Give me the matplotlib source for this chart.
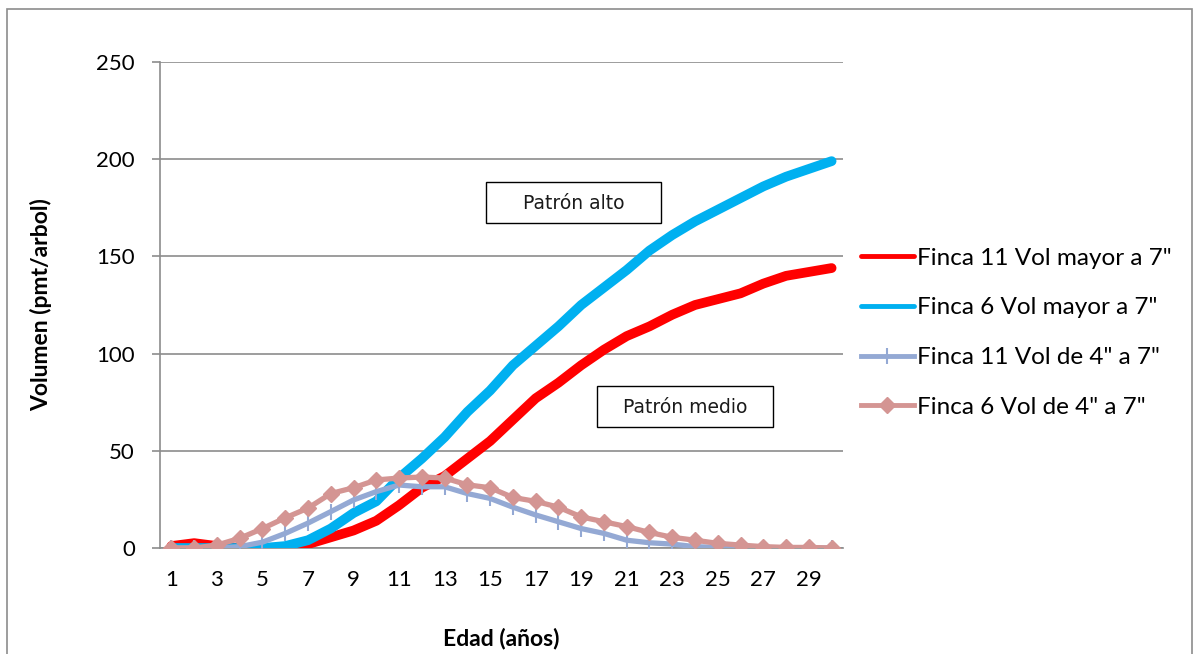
import matplotlib
matplotlib.use('Agg')
import matplotlib.pyplot as plt
from matplotlib.patches import Rectangle

# Data
edad = list(range(1, 31))
finca11_mayor = [1, 2.5, 1, 0, 0, 0, 2, 5.5, 9, 14, 22, 31, 37, 46, 55,
                 66, 77, 85, 94, 102, 109, 114, 120, 125, 128, 131, 136, 140, 142, 144]
finca6_mayor = [0, 0, 0, 0, 0, 1, 4, 10, 18, 24, 36, 46, 57, 70, 81,
                94, 104, 114, 125, 134, 143, 153, 161, 168, 174, 180, 186, 191, 195, 199]
finca11_4a7 = [0, 0, 0, 0.7, 3, 7.5, 12.8, 18.7, 24.7, 29, 32.4, 31.5, 31.5, 28, 25.5,
               21, 17, 13.5, 10, 7.5, 4, 2.7, 2, 0.7, 0.3, 0, 0, 0, 0, 0]
finca6_4a7 = [0, 0, 1.5, 5, 10, 15.5, 20.5, 28, 31, 35, 36, 36.5, 36, 32.5, 31,
              26, 24, 21, 16, 13.5, 11, 8, 5.5, 4, 2.4, 1.5, 0.7, 0.3, 0.3, 0]
xticks = list(range(1, 30, 2))
yticks = [0, 50, 100, 150, 200, 250]

plt.rcParams['font.family'] = ['Lato', 'DejaVu Sans']

fig = plt.figure(figsize=(12, 6.54), dpi=100)
ax = fig.add_axes([160 / 1200, 1 - 548 / 654, 683 / 1200, 486 / 654])

# outer chart frame
fig.patches.append(Rectangle((7 / 1200, -0.02), 1185 / 1200, 1.02 - 9 / 654,
                             transform=fig.transFigure, fill=False,
                             edgecolor='#8c8c8c', linewidth=1.2))

ax.plot(edad, finca11_mayor, color='#ff0000', linewidth=7, solid_capstyle='round',
        solid_joinstyle='round', label='Finca 11 Vol mayor a 7"', zorder=3)
ax.plot(edad, finca6_mayor, color='#00b0f0', linewidth=7, solid_capstyle='round',
        solid_joinstyle='round', label='Finca 6 Vol mayor a 7"', zorder=3)
ax.plot(edad, finca11_4a7, color='#94a9d4', linewidth=3.8, marker='|', markersize=12,
        markeredgewidth=1.5, label='Finca 11 Vol de 4" a 7"', zorder=4)
ax.plot(edad, finca6_4a7, color='#d49593', linewidth=3.8, marker='D', markersize=8,
        label='Finca 6 Vol de 4" a 7"', zorder=4)

ax.set_xlim(0.5, 30.5)
ax.set_ylim(0, 250)
ax.set_xticks(xticks)
ax.set_yticks(yticks)
ax.grid(axis='y', color='#8c8c8c', linewidth=1.2)
ax.set_axisbelow(True)
for s in ['top', 'right']:
    ax.spines[s].set_visible(False)
for s in ['left', 'bottom']:
    ax.spines[s].set_color('#8c8c8c')
    ax.spines[s].set_linewidth(1.2)
ax.tick_params(axis='y', length=6, color='#8c8c8c', width=1.2, pad=12, labelsize=16)
ax.tick_params(axis='x', length=0, pad=16, labelsize=16)

ax.set_xlabel('Edad (años)', fontsize=16.5, fontweight='bold', labelpad=27)
ax.set_ylabel('Volumen (pmt/arbol)', fontsize=16.5, fontweight='bold', labelpad=32)

# annotation boxes
for (x0, y0, w, h, label) in [(486, 182, 175, 41, 'Patrón alto'),
                              (597, 386, 176, 41, 'Patrón medio')]:
    fig.patches.append(Rectangle((x0 / 1200, 1 - (y0 + h) / 654), w / 1200, h / 654,
                                 transform=fig.transFigure, facecolor='white',
                                 edgecolor='black', linewidth=1, zorder=5))
    fig.text((x0 + w / 2) / 1200, 1 - (y0 + h / 2 + 1) / 654, label, fontsize=13.5,
             family='DejaVu Sans', ha='center', va='center', color='#1a1a1a', zorder=6)

leg = ax.legend(loc='upper left', bbox_to_anchor=(851 / 1200, 1 - 238 / 654),
                bbox_transform=fig.transFigure, frameon=False, fontsize=17.5,
                handlelength=2.2, handletextpad=0.12, labelspacing=1.18, borderaxespad=0)
for line in leg.get_lines():
    line.set_linewidth(3.5)

fig.savefig('out.png', dpi=100)
